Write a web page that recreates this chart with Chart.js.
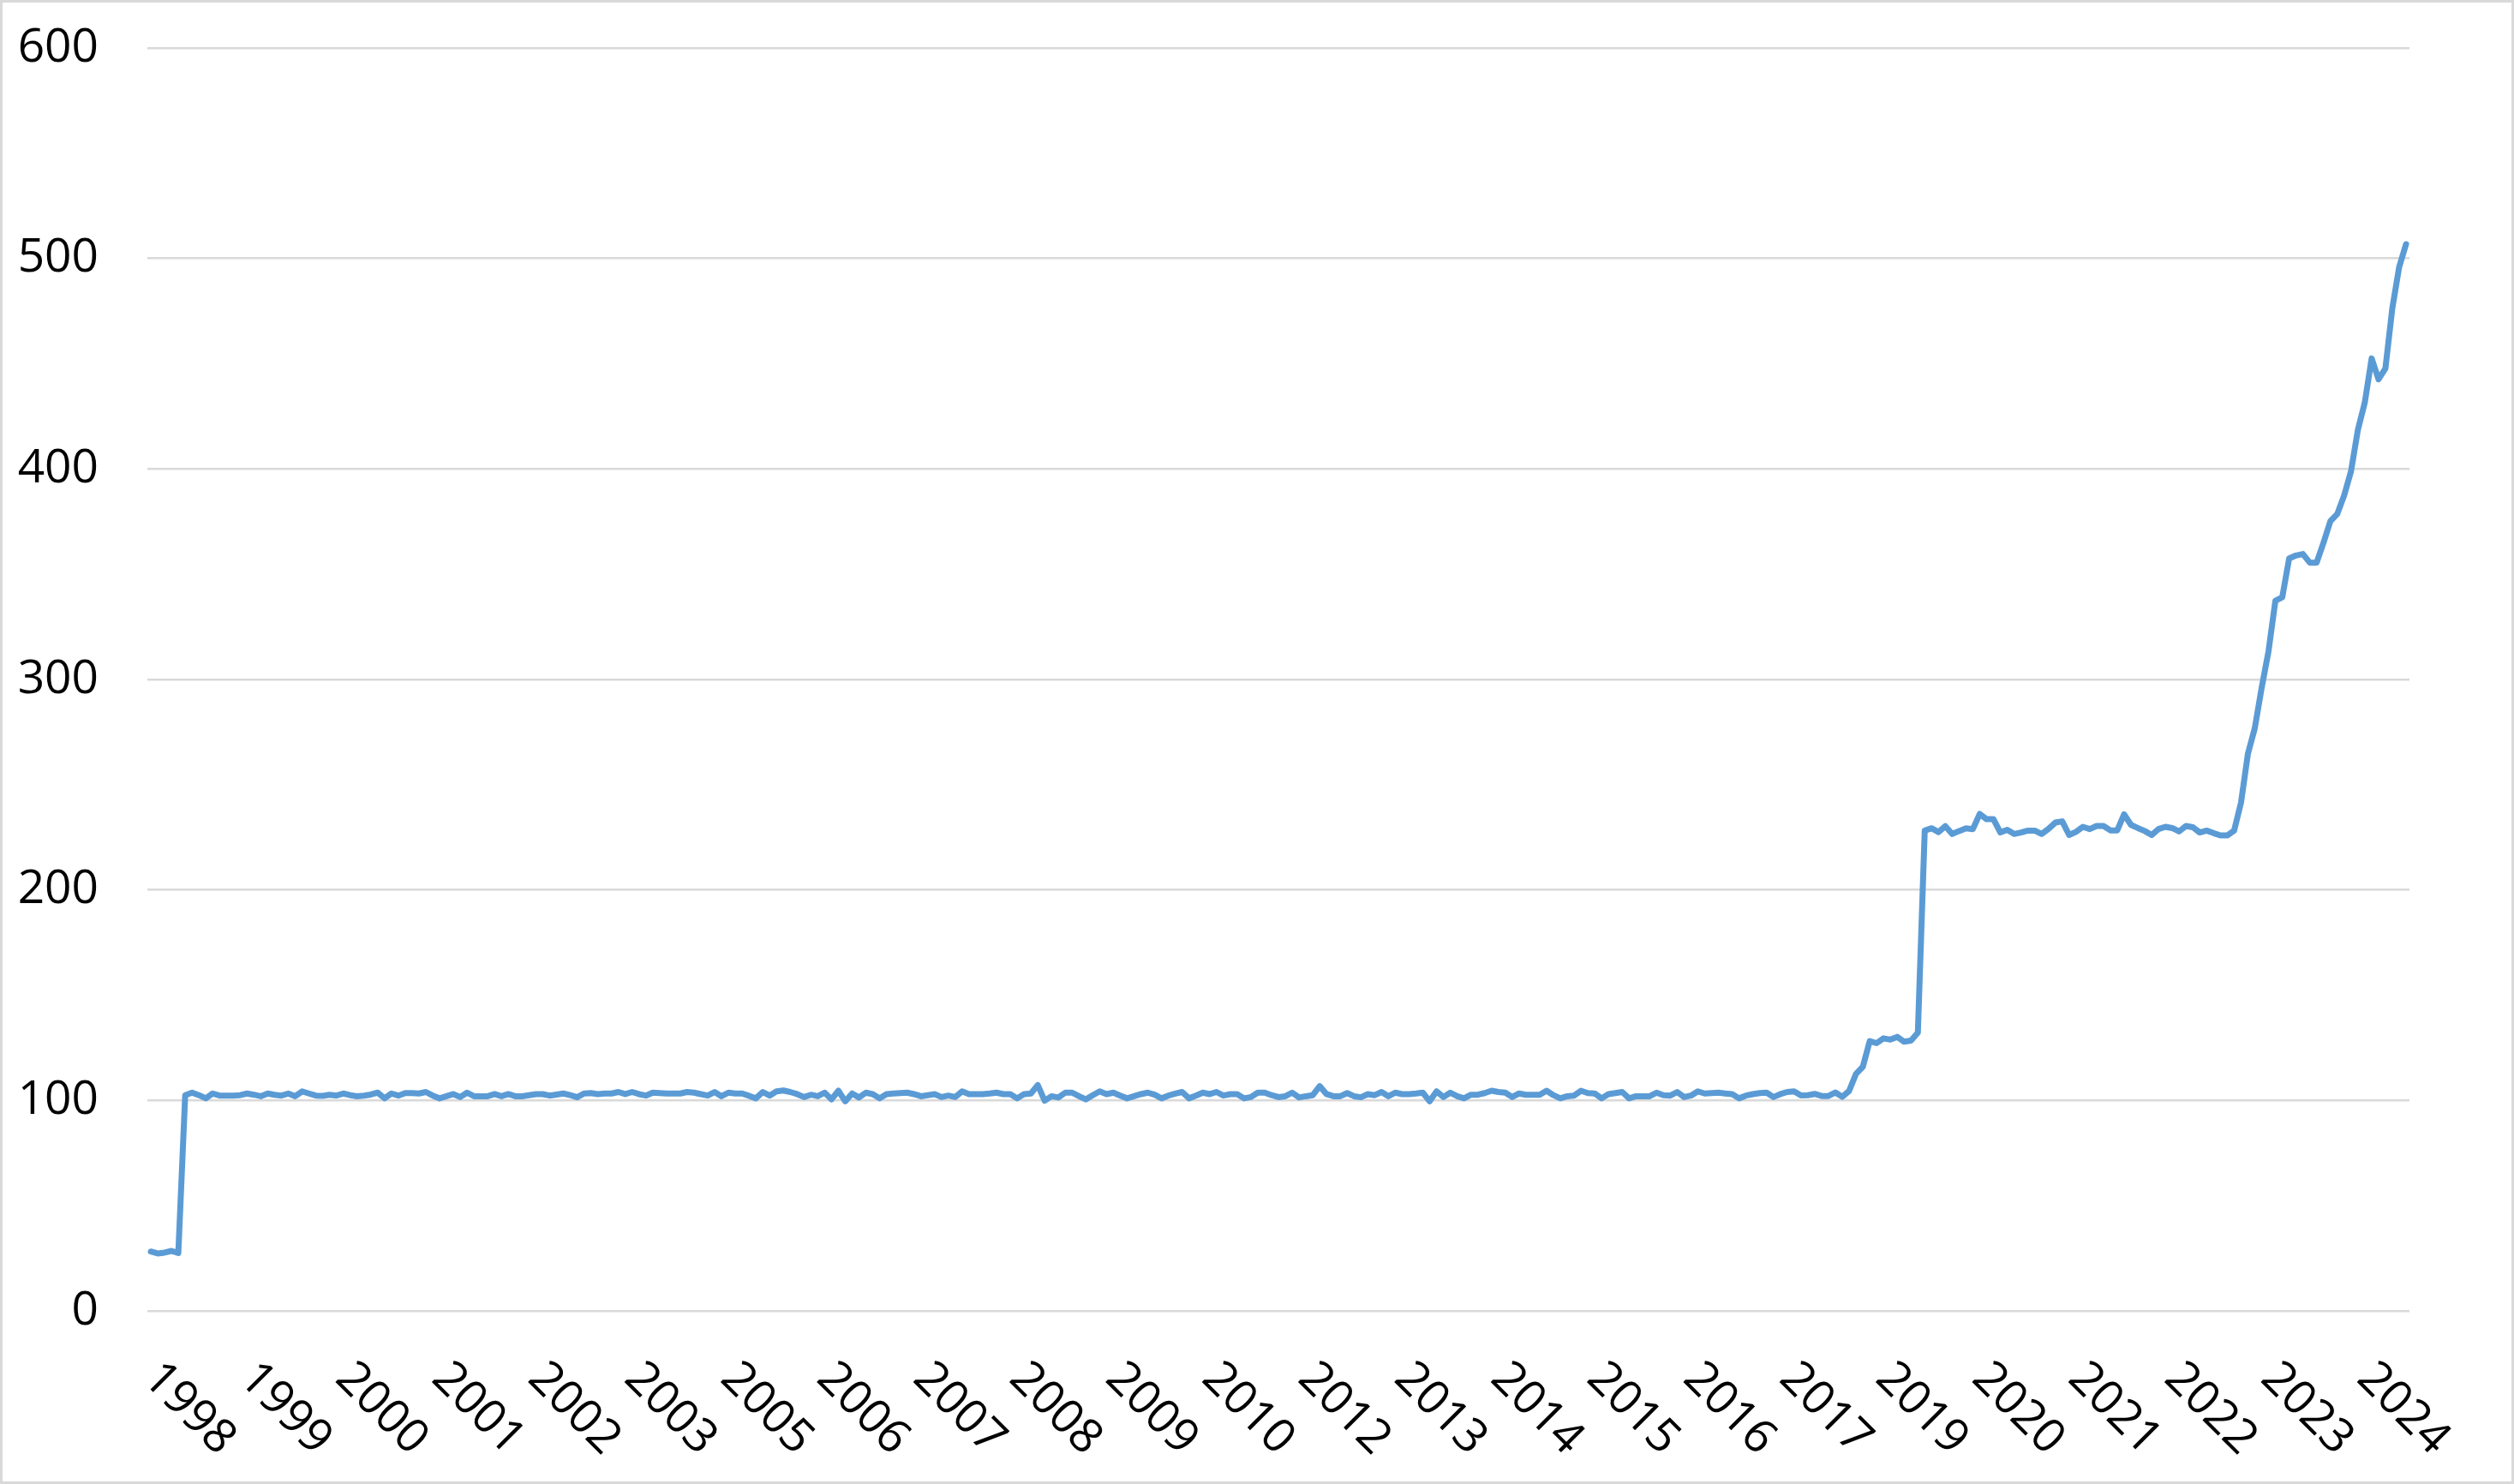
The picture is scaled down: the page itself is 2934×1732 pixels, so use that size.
<!DOCTYPE html>
<html>
<head>
<meta charset="utf-8">
<script src="https://cdn.jsdelivr.net/npm/chart.js@4/dist/chart.umd.min.js"></script>
<style>
  html, body { margin: 0; padding: 0; background: #ffffff; }
  #wrap { width: 2934px; height: 1732px; }
</style>
</head>
<body>
<div id="wrap"><canvas id="c" width="2934" height="1732"></canvas></div>
<script>
// Tick labels shown on the category axis (one every `labelInterval` categories)
const tickLabels = ['1998','1999','2000','2001','2002','2003','2005','2006','2007','2008','2009','2010',
                    '2012','2013','2014','2015','2016','2017','2019','2020','2021','2022','2023','2024'];
const labelInterval = 14;

// Series values (one per category)
const seriesValues = [
  28.2, 27.3, 27.7, 28.5, 27.5, 102.5, 103.7, 102.5, 101, 103.3,
  102.3, 102.3, 102.3, 102.5, 103.3, 102.7, 102, 103.3, 102.7, 102.3,
  103.3, 102, 104.3, 103.3, 102.3, 102.2, 102.7, 102.3, 103.3, 102.5,
  102, 102.3, 102.8, 103.7, 101, 103.3, 102.3, 103.5, 103.5, 103.3,
  104, 102.3, 101, 102, 103, 101.6, 103.7, 102, 102, 102,
  103, 102, 103, 102, 102, 102.5, 103, 103, 102.3, 102.8,
  103.3, 102.5, 101.5, 103.3, 103.5, 103, 103.3, 103.3, 104, 103,
  104, 103, 102.3, 103.7, 103.5, 103.3, 103.3, 103.3, 104, 103.7,
  103, 102.3, 104, 102, 103.7, 103.3, 103.3, 102.2, 101, 104,
  102.3, 104.3, 104.7, 104, 103, 101.6, 102.7, 102, 103.7, 100.5,
  104.6, 99.6, 103.3, 101.4, 103.7, 103, 101, 103, 103.3, 103.5,
  103.7, 103, 102, 102.5, 103, 101.6, 102.3, 101.6, 104.3, 103,
  103, 103, 103.3, 103.7, 103, 103, 101, 103, 103.3, 107.3,
  99.9, 102, 101.4, 103.7, 103.7, 102, 100.5, 102.5, 104.3, 103,
  103.7, 102.3, 101, 102, 103, 103.7, 102.7, 101, 102.3, 103.2,
  104, 101, 102.3, 103.7, 103, 104, 102.3, 103, 103, 101,
  101.6, 103.7, 103.7, 102.5, 101.6, 102, 103.7, 101.4, 102, 102.5,
  106.8, 103, 102, 102, 103.5, 102, 101.5, 103, 102.5, 104,
  102, 103.7, 103, 103, 103.3, 103.7, 99.6, 104.3, 101.6, 103.7,
  102, 101, 102.7, 102.7, 103.5, 104.6, 104, 103.7, 101.6, 103.3,
  102.7, 102.7, 102.7, 104.6, 102.5, 101, 102, 102.3, 104.6, 103.5,
  103.3, 101, 103, 103.5, 104, 101, 102, 102, 102, 103.7,
  102.5, 102.3, 104, 101.6, 102.3, 104.3, 103.3, 103.5, 103.7, 103.3,
  103, 101, 102.3, 103, 103.5, 103.7, 101.6, 103, 104, 104.3,
  102.4, 102.5, 103.1, 102.1, 102.1, 103.8, 101.7, 104.5, 112.6, 116,
  128.2, 127.2, 129.5, 128.9, 130.2, 127.9, 128.4, 132.2, 228.2, 229.3,
  227.5, 230.3, 226.6, 228, 229.3, 228.9, 236.1, 233.6, 233.6, 227.3,
  228.6, 226.6, 227.3, 228.2, 228.2, 226.6, 229, 232, 232.6, 226.1,
  227.6, 230, 228.9, 230.4, 230.4, 228.3, 228.3, 235.9, 230.9, 229.4,
  228, 226.1, 228.9, 230, 229.4, 227.8, 230.4, 229.8, 227.3, 228.2,
  227, 225.9, 225.9, 228.2, 241.5, 264.6, 276.8, 296, 313.4, 337.4,
  339, 357.5, 358.9, 359.6, 355.5, 355.5, 365, 375.2, 378.6, 387.4,
  398.9, 418.6, 431.5, 452.5, 442.6, 447.7, 476.2, 495.9, 506.8
];

// Y axis ticks
const yTicks = [0, 100, 200, 300, 400, 500, 600];

// Categories: label text on every labelInterval-th category, others blank
const categories = seriesValues.map((_, i) => (i % labelInterval === 0 ? tickLabels[i / labelInterval] : ''));

const FONT_FAMILY = '"Open Sans", "Noto Sans", sans-serif';
const FONT_SIZE = 55;

const bgAndBorder = {
  id: 'bgAndBorder',
  beforeDraw(chart) {
    const ctx = chart.ctx;
    ctx.save();
    ctx.fillStyle = '#ffffff';
    ctx.fillRect(0, 0, chart.width, chart.height);
    ctx.restore();
  },
  afterDraw(chart) {
    const ctx = chart.ctx;
    ctx.save();
    ctx.strokeStyle = '#d9d9d9';
    ctx.lineWidth = 3;
    ctx.strokeRect(1.5, 1.5, chart.width - 3, chart.height - 3);
    ctx.restore();
  }
};

const rotatedXLabels = {
  id: 'rotatedXLabels',
  afterDraw(chart) {
    const xs = chart.scales.x;
    const ctx = chart.ctx;
    const baseY = chart.chartArea.bottom + 70;
    ctx.save();
    ctx.font = FONT_SIZE + 'px ' + FONT_FAMILY;
    ctx.fillStyle = '#000000';
    ctx.textAlign = 'left';
    ctx.textBaseline = 'middle';
    categories.forEach((lab, i) => {
      if (!lab) return;
      const x = xs.getPixelForValue(i);
      ctx.save();
      ctx.translate(x, baseY);
      ctx.rotate(Math.PI / 4);
      ctx.fillText(lab, 0, 0);
      ctx.restore();
    });
    ctx.restore();
  }
};

new Chart(document.getElementById('c'), {
  type: 'line',
  data: {
    labels: categories,
    datasets: [{
      data: seriesValues,
      borderColor: '#5B9BD5',
      borderWidth: 7,
      pointRadius: 0,
      pointHoverRadius: 0,
      tension: 0,
      fill: false,
      borderJoinStyle: 'round',
      borderCapStyle: 'round'
    }]
  },
  options: {
    responsive: false,
    animation: false,
    devicePixelRatio: 1,
    layout: { padding: { left: 0, right: 122, top: 56, bottom: 0 } },
    plugins: { legend: { display: false }, tooltip: { enabled: false } },
    scales: {
      x: {
        type: 'category',
        offset: true,
        grid: { display: false, drawTicks: false },
        border: { display: false },
        ticks: { display: false },
        afterFit(scale) {
          scale.height = 202;
          scale.paddingLeft = 0; scale.paddingRight = 0;
          scale.paddingTop = 0; scale.paddingBottom = 0;
        }
      },
      y: {
        min: 0,
        max: 600,
        afterBuildTicks(scale) { scale.ticks = yTicks.map(v => ({ value: v })); },
        grid: { color: '#d9d9d9', lineWidth: 2.5, drawTicks: false },
        border: { display: false },
        ticks: {
          color: '#000000',
          padding: 57,
          font: { family: FONT_FAMILY, size: FONT_SIZE }
        },
        afterFit(scale) {
          scale.width = 172;
          scale.paddingTop = 0; scale.paddingBottom = 0;
          scale.paddingLeft = 0; scale.paddingRight = 0;
        }
      }
    }
  },
  plugins: [bgAndBorder, rotatedXLabels]
});
</script>
</body>
</html>
